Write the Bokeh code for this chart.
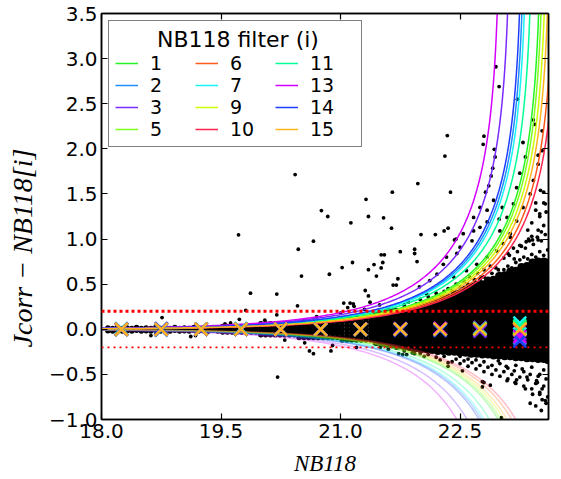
import numpy as np
from bokeh.plotting import figure
from bokeh.models import Span, LinearAxis, FixedTicker, Range1d, CustomJSTickFormatter
from bokeh.embed import file_html
from bokeh.resources import INLINE

# ---------------- data ----------------
filters = ["1", "2", "3", "5", "6", "7", "9", "10", "11", "13", "14", "15"]
colors = ["#22f522", "#1e8fff", "#7b2bff", "#7fff1f", "#ff5a1a", "#18f4f4",
          "#ccff00", "#ff2450", "#00ff96", "#d400ff", "#1f3dff", "#ffb41e"]
# magnitude at which each filter's upper Sigma-curve diverges
m_lim = [23.53, 23.32, 23.14, 23.56, 23.70, 23.35, 23.60, 23.75, 23.42, 23.01, 23.29, 23.64]

bin_centres = [18.25, 18.75, 19.25, 19.75, 20.25, 20.75, 21.25, 21.75, 22.25, 22.75, 23.25]
med_f1 = [0.00, 0.00, 0.00, 0.00, 0.00, 0.00, 0.00, 0.00, 0.00, 0.00, 0.01]
med_f2 = [0.00, -0.01, 0.00, 0.00, 0.00, 0.00, 0.00, 0.00, -0.01, -0.02, -0.10]
med_f3 = [0.00, 0.00, 0.00, 0.00, 0.00, 0.00, 0.00, 0.01, 0.01, 0.02, -0.05]
med_f5 = [0.00, 0.00, 0.00, 0.00, 0.00, 0.00, 0.00, 0.00, 0.00, 0.00, 0.02]
med_f6 = [0.00, 0.00, 0.00, 0.00, 0.00, 0.00, 0.00, 0.00, 0.00, 0.01, 0.00]
med_f7 = [0.01, 0.00, 0.00, 0.01, 0.00, 0.00, 0.00, 0.00, 0.00, 0.00, 0.07]
med_f9 = [0.00, 0.00, 0.00, 0.00, 0.00, 0.00, 0.00, 0.00, 0.00, 0.00, 0.00]
med_f10 = [0.00, 0.00, 0.00, 0.00, 0.00, 0.00, 0.00, 0.00, 0.00, 0.00, -0.01]
med_f11 = [0.00, 0.00, 0.00, 0.00, 0.00, 0.00, 0.00, 0.00, 0.00, 0.01, 0.04]
med_f13 = [0.00, 0.00, 0.00, 0.00, 0.00, 0.00, 0.00, 0.00, 0.01, -0.02, -0.08]
med_f14 = [0.00, 0.01, 0.00, 0.00, 0.00, 0.00, 0.00, -0.01, -0.01, -0.01, -0.13]
med_f15 = [0.00, 0.00, 0.00, 0.00, 0.00, 0.00, 0.00, 0.00, 0.00, 0.00, 0.00]
medians = [med_f1, med_f2, med_f3, med_f5, med_f6, med_f7, med_f9, med_f10,
           med_f11, med_f13, med_f14, med_f15]

# bright narrow sequence of sources (columns of points)
band_x = [18.08, 18.14, 18.20, 18.26, 18.32, 18.38, 18.44, 18.50, 18.56, 18.62,
          18.68, 18.74, 18.80, 18.86, 18.92, 18.98, 19.04, 19.10, 19.16, 19.22,
          19.28, 19.34, 19.40, 19.46, 19.52, 19.58, 19.64, 19.70, 19.76, 19.82,
          19.88, 19.94, 20.00, 20.06, 20.12, 20.18, 20.24, 20.30, 20.36, 20.42,
          20.48, 20.54, 20.60, 20.66, 20.72, 20.78, 20.84, 20.90, 20.96, 21.02,
          21.08, 21.14, 21.20, 21.26, 21.32, 21.38]
band_y = [[-0.015, 0.015], [-0.02, 0.01], [-0.01, 0.02], [-0.02, 0.01], [-0.015, 0.015],
          [-0.02, 0.01], [-0.01, 0.02], [-0.02, 0.01], [-0.015, 0.015], [-0.02, 0.01],
          [-0.01, 0.02], [-0.02, 0.01], [-0.015, 0.015], [-0.02, 0.01], [-0.01, 0.02],
          [-0.02, 0.01], [-0.015, 0.015], [-0.02, 0.01], [-0.01, 0.02], [-0.02, 0.01],
          [-0.015, 0.015], [-0.02, 0.01], [-0.01, 0.02], [-0.02, 0.01],
          [-0.03, 0.00, 0.03], [-0.03, 0.00, 0.03], [-0.03, 0.00, 0.03], [-0.03, 0.00, 0.03],
          [-0.03, 0.00, 0.03], [-0.03, 0.00, 0.03], [-0.03, 0.00, 0.03], [-0.03, 0.00, 0.03],
          [-0.06, -0.03, 0.00, 0.03, 0.06], [-0.06, -0.03, 0.00, 0.03, 0.06],
          [-0.06, -0.03, 0.00, 0.03, 0.06], [-0.06, -0.03, 0.00, 0.03, 0.06],
          [-0.06, -0.03, 0.00, 0.03, 0.06], [-0.06, -0.03, 0.00, 0.03, 0.06],
          [-0.06, -0.03, 0.00, 0.03, 0.06], [-0.06, -0.03, 0.00, 0.03, 0.06],
          [-0.09, -0.05, -0.02, 0.01, 0.04, 0.08], [-0.09, -0.05, -0.02, 0.01, 0.04, 0.08],
          [-0.09, -0.05, -0.02, 0.01, 0.04, 0.08], [-0.09, -0.05, -0.02, 0.01, 0.04, 0.08],
          [-0.09, -0.05, -0.02, 0.01, 0.04, 0.08], [-0.09, -0.05, -0.02, 0.01, 0.04, 0.08],
          [-0.09, -0.05, -0.02, 0.01, 0.04, 0.08], [-0.09, -0.05, -0.02, 0.01, 0.04, 0.08],
          [-0.09, -0.05, -0.02, 0.01, 0.04, 0.08],
          [-0.12, -0.08, -0.04, 0.00, 0.04, 0.08, 0.12], [-0.12, -0.08, -0.04, 0.00, 0.04, 0.08, 0.12],
          [-0.12, -0.08, -0.04, 0.00, 0.04, 0.08, 0.12], [-0.12, -0.08, -0.04, 0.00, 0.04, 0.08, 0.12],
          [-0.12, -0.08, -0.04, 0.00, 0.04, 0.08, 0.12], [-0.12, -0.08, -0.04, 0.00, 0.04, 0.08, 0.12],
          [-0.12, -0.08, -0.04, 0.00, 0.04, 0.08, 0.12]]

# faint end: dense core of sources
core_x = [21.45, 21.52, 21.59, 21.66, 21.73, 21.80, 21.87, 21.94, 22.01, 22.08,
          22.15, 22.22, 22.29, 22.36, 22.43, 22.50, 22.57, 22.64, 22.71, 22.78,
          22.85, 22.92, 22.99, 23.06, 23.13, 23.20, 23.27, 23.34, 23.41, 23.48,
          23.55, 23.60]
core_y = [
    [-0.14, -0.08, -0.02, 0.04, 0.10, 0.15],
    [-0.15, -0.09, -0.03, 0.03, 0.09, 0.15],
    [-0.16, -0.10, -0.04, 0.02, 0.08, 0.14, 0.18],
    [-0.17, -0.11, -0.05, 0.01, 0.07, 0.13, 0.19],
    [-0.18, -0.12, -0.06, 0.00, 0.06, 0.12, 0.18],
    [-0.19, -0.13, -0.07, -0.01, 0.05, 0.11, 0.17, 0.21],
    [-0.20, -0.14, -0.08, -0.02, 0.04, 0.10, 0.16, 0.22],
    [-0.21, -0.15, -0.09, -0.03, 0.03, 0.09, 0.15, 0.21],
    [-0.22, -0.16, -0.10, -0.04, 0.02, 0.08, 0.14, 0.20, 0.25],
    [-0.22, -0.16, -0.10, -0.04, 0.02, 0.08, 0.14, 0.20, 0.26],
    [-0.23, -0.17, -0.11, -0.05, 0.01, 0.07, 0.13, 0.19, 0.25, 0.29],
    [-0.24, -0.18, -0.12, -0.06, 0.00, 0.06, 0.12, 0.18, 0.24, 0.30],
    [-0.24, -0.18, -0.12, -0.06, 0.00, 0.06, 0.12, 0.18, 0.24, 0.30, 0.34],
    [-0.25, -0.19, -0.13, -0.07, -0.01, 0.05, 0.11, 0.17, 0.23, 0.29, 0.35],
    [-0.25, -0.19, -0.13, -0.07, -0.01, 0.05, 0.11, 0.17, 0.23, 0.29, 0.35, 0.39],
    [-0.26, -0.20, -0.14, -0.08, -0.02, 0.04, 0.10, 0.16, 0.22, 0.28, 0.34, 0.40],
    [-0.26, -0.20, -0.14, -0.08, -0.02, 0.04, 0.10, 0.16, 0.22, 0.28, 0.34, 0.40, 0.44],
    [-0.27, -0.21, -0.15, -0.09, -0.03, 0.03, 0.09, 0.15, 0.21, 0.27, 0.33, 0.39, 0.45],
    [-0.27, -0.21, -0.15, -0.09, -0.03, 0.03, 0.09, 0.15, 0.21, 0.27, 0.33, 0.39, 0.45, 0.49],
    [-0.28, -0.22, -0.16, -0.10, -0.04, 0.02, 0.08, 0.14, 0.20, 0.26, 0.32, 0.38, 0.44, 0.50],
    [-0.28, -0.22, -0.16, -0.10, -0.04, 0.02, 0.08, 0.14, 0.20, 0.26, 0.32, 0.38, 0.44, 0.50, 0.54],
    [-0.29, -0.23, -0.17, -0.11, -0.05, 0.01, 0.07, 0.13, 0.19, 0.25, 0.31, 0.37, 0.43, 0.49, 0.55],
    [-0.29, -0.23, -0.17, -0.11, -0.05, 0.01, 0.07, 0.13, 0.19, 0.25, 0.31, 0.37, 0.43, 0.49, 0.55, 0.59],
    [-0.30, -0.24, -0.18, -0.12, -0.06, 0.00, 0.06, 0.12, 0.18, 0.24, 0.30, 0.36, 0.42, 0.48, 0.54, 0.60],
    [-0.30, -0.24, -0.18, -0.12, -0.06, 0.00, 0.06, 0.12, 0.18, 0.24, 0.30, 0.36, 0.42, 0.48, 0.54, 0.60, 0.64],
    [-0.31, -0.25, -0.19, -0.13, -0.07, -0.01, 0.05, 0.11, 0.17, 0.23, 0.29, 0.35, 0.41, 0.47, 0.53, 0.59, 0.65],
    [-0.31, -0.25, -0.19, -0.13, -0.07, -0.01, 0.05, 0.11, 0.17, 0.23, 0.29, 0.35, 0.41, 0.47, 0.53, 0.59, 0.65, 0.69],
    [-0.32, -0.26, -0.20, -0.14, -0.08, -0.02, 0.04, 0.10, 0.16, 0.22, 0.28, 0.34, 0.40, 0.46, 0.52, 0.58, 0.64, 0.70],
    [-0.32, -0.26, -0.20, -0.14, -0.08, -0.02, 0.04, 0.10, 0.16, 0.22, 0.28, 0.34, 0.40, 0.46, 0.52, 0.58, 0.64, 0.70, 0.74],
    [-0.33, -0.27, -0.21, -0.15, -0.09, -0.03, 0.03, 0.09, 0.15, 0.21, 0.27, 0.33, 0.39, 0.45, 0.51, 0.57, 0.63, 0.69, 0.75],
    [-0.33, -0.27, -0.21, -0.15, -0.09, -0.03, 0.03, 0.09, 0.15, 0.21, 0.27, 0.33, 0.39, 0.45, 0.51, 0.57, 0.63, 0.69, 0.75],
    [-0.34, -0.28, -0.22, -0.16, -0.10, -0.04, 0.02, 0.08, 0.14, 0.20, 0.26, 0.32, 0.38, 0.44, 0.50, 0.56, 0.62, 0.68, 0.74],
]

# individual sources: scattered points around the core and outliers
sparse_x = [
    20.43, 19.72, 20.76, 20.84, 20.66, 20.47, 20.51, 19.87, 20.20, 20.46, 19.81, 20.86,
    18.76, 19.73, 20.20, 22.34, 22.31, 22.80, 22.79, 22.93, 22.94, 22.91, 22.89, 22.86,
    22.82, 22.38, 21.97, 21.65, 21.32, 21.35, 21.54, 21.13, 21.64, 21.02, 21.15, 21.35,
    21.42, 21.51, 21.55, 21.53, 21.51, 21.75, 21.45, 21.31, 21.35, 21.72, 21.66, 21.70,
    21.93, 21.93, 21.96, 22.19, 22.30, 22.35, 22.43, 22.01, 21.04, 21.12, 21.17, 21.49,
    23.51, 23.45, 23.41, 23.48, 23.58, 23.13, 23.36, 23.25, 23.21, 23.03, 22.99, 22.95,
    22.99, 23.22, 23.42, 23.44, 23.32, 23.29, 23.48, 23.53, 23.55, 23.57, 23.50, 23.52,
    20.21, 20.61, 20.66, 20.88, 21.73, 21.78, 21.83, 21.93, 22.35, 22.35, 22.53, 22.78,
    22.78, 22.88, 23.02, 23.09, 23.19, 23.38, 23.41, 23.50, 23.53, 23.47, 23.57, 23.21,
    23.32, 23.53, 22.80, 23.34, 23.46, 21.09, 21.16, 21.37,
    18.62, 18.68, 19.12, 19.18, 19.55, 19.62, 20.05, 20.30, 20.55, 20.70, 20.90, 21.00,
    21.20, 21.30,
    22.45, 22.54, 22.67, 22.75, 22.84, 22.65, 22.46, 22.29, 22.21, 22.12, 21.99, 22.08,
    22.42, 22.58, 22.71, 22.84, 22.96, 23.04, 23.13, 23.21, 23.29, 23.38, 23.42, 23.48,
    23.53, 23.00, 23.09, 23.17, 22.84, 22.92, 22.67, 22.75, 22.50, 22.33,
    23.00, 23.05, 23.10, 23.15, 23.20, 23.25, 23.30, 23.35, 23.40, 23.45, 23.50, 23.55,
    23.60, 23.12, 23.22, 23.32, 23.42, 23.52, 23.57, 23.47, 23.37, 23.27, 23.17, 22.95,
    22.90, 22.80, 22.75, 22.70, 22.65, 23.58, 23.55, 23.50, 23.45, 23.40, 23.35,
    21.50, 21.60, 21.70, 21.80, 21.85, 21.95, 22.00, 22.05, 22.10, 22.15, 22.20, 22.25,
    22.30, 22.35, 22.40, 22.45, 22.50, 22.55, 22.60, 22.62, 22.68, 22.72, 22.76, 22.80,
    22.88, 22.98, 23.05, 23.10, 23.18, 23.25, 23.33, 23.40, 23.48, 23.55,
    21.50, 21.60, 21.70, 21.80, 21.90, 22.00, 22.05, 22.10, 22.20, 22.25, 22.30, 22.40,
    22.45, 22.50, 22.55, 22.60, 22.65, 22.70, 22.75, 22.80, 22.85, 22.90, 22.95, 23.00,
    23.05, 23.10, 23.15, 23.20, 23.25, 23.30, 23.35, 23.40, 23.45, 23.50, 23.55, 23.60,
    22.60, 22.80, 23.00, 23.20, 23.40, 23.55, 22.90, 23.10, 23.30, 23.50, 23.58, 23.48,
    23.38, 23.28, 23.18, 23.08, 22.98, 22.70, 22.50, 23.45, 23.52, 23.58]
sparse_y = [
    1.715, 1.047, 1.316, 1.25, 0.976, 0.887, 0.59, 0.40, 0.39, 0.26, 0.21, 0.61,
    0.13, 0.11, 0.16, 2.147, 1.92, 2.14, 2.05, 1.995, 1.91, 1.785, 1.70, 1.59,
    1.52, 1.52, 1.615, 1.52, 1.44, 1.25, 1.235, 1.18, 1.12, 0.684, 0.74, 0.66,
    0.717, 0.825, 0.825, 0.74, 0.68, 0.86, 0.59, 0.43, 0.37, 0.56, 0.49, 0.49,
    0.887, 0.84, 0.75, 1.05, 1.09, 1.12, 0.99, 1.05, 0.29, 0.29, 0.255, 0.27,
    1.54, 1.32, 0.99, 0.99, 0.69, 1.02, 1.00, 1.73, 1.57, 1.35, 1.22, 2.91,
    2.69, 2.55, 2.32, 2.27, 1.91, 2.07, 1.93, 2.20, 1.52, 1.39, 1.28, 1.08,
    -0.53, -0.24, -0.27, -0.24, -0.27, -0.28, -0.28, -0.27, -0.37, -0.41, -0.46, -0.58,
    -0.64, -0.62, -0.98, -0.57, -0.59, -0.82, -0.72, -0.72, -0.66, -0.59, -0.79, -0.56,
    -0.66, -0.78, -0.59, -0.53, -0.57, 0.24, 0.28, 0.30,
    -0.07, -0.06, -0.08, -0.07, 0.06, 0.07, 0.10, -0.12, -0.15, 0.14, -0.18, 0.18,
    -0.20, 0.22,
    1.00, 1.06, 1.09, 1.13, 1.19, 0.98, 0.84, 0.72, 0.61, 0.54, 0.47, 0.39,
    0.58, 0.65, 0.72, 0.80, 0.87, 0.95, 1.06, 1.20, 1.35, 1.50, 1.65, 1.83,
    1.98, 1.09, 1.24, 1.39, 1.32, 1.43, 1.24, 1.35, 0.91, 0.80,
    0.62, 0.66, 0.70, 0.68, 0.74, 0.77, 0.80, 0.78, 0.83, 0.80, 0.86, 0.82,
    0.88, 0.82, 0.86, 0.90, 0.94, 0.98, 1.05, 1.02, 0.98, 0.92, 0.90, 0.68,
    0.62, 0.58, 0.55, 0.52, 0.50, 1.30, 1.40, 1.25, 1.40, 1.18, 1.10,
    0.20, 0.24, 0.22, 0.27, 0.30, 0.28, 0.33, 0.30, 0.36, 0.34, 0.40, 0.37,
    0.42, 0.45, 0.43, 0.50, 0.47, 0.53, 0.50, 0.58, 0.55, 0.62, 0.58, 0.66,
    0.70, 0.66, 0.79, 0.84, 0.78, 0.93, 0.97, 1.03, 1.10, 1.15,
    -0.20, -0.22, -0.21, -0.24, -0.26, -0.27, -0.30, -0.28, -0.31, -0.34, -0.30, -0.36,
    -0.33, -0.38, -0.35, -0.41, -0.37, -0.44, -0.40, -0.47, -0.42, -0.50, -0.45, -0.52,
    -0.47, -0.55, -0.50, -0.60, -0.53, -0.63, -0.56, -0.66, -0.60, -0.70, -0.63, -0.75,
    -0.33, -0.36, -0.38, -0.40, -0.42, -0.45, -0.40, -0.43, -0.47, -0.50, -0.55, -0.52,
    -0.50, -0.44, -0.46, -0.41, -0.35, -0.34, -0.30, -0.85, -0.90, -0.82]

CUT = 0.2  # colour-excess selection lines at +/- 0.2

x_ticks = [18.0, 19.5, 21.0, 22.5]
y_ticks = [-1.0, -0.5, 0.0, 0.5, 1.0, 1.5, 2.0, 2.5, 3.0, 3.5]

# ---------------- figure ----------------
p = figure(width=561, height=479, x_range=Range1d(18.0, 23.61), y_range=Range1d(-1.0, 3.5),
           output_backend="svg", toolbar_location=None,
           min_border_left=101, min_border_right=13, min_border_top=13, min_border_bottom=60)
p.xgrid.visible = False
p.ygrid.visible = False
p.outline_line_color = "black"
p.outline_line_width = 1.5
p.background_fill_color = "white"
p.border_fill_color = "white"

bx = [x for x, ys in zip(band_x, band_y) for _ in ys]
by = [y for ys in band_y for y in ys]
p.scatter(bx, by, size=5.5, color="black", line_color=None)
cx = [x for x, ys in zip(core_x, core_y) for _ in ys]
cy = [y for ys in core_y for y in ys]
p.scatter(cx, cy, size=8, color="black", line_color=None)
p.scatter(sparse_x, sparse_y, size=3.8, color="black", line_color=None)

# Sigma curves: lower (faded) then upper
curves = []
for m in m_lim:
    xs = np.concatenate([np.linspace(18.0, m - 0.25, 300), m - np.geomspace(0.25, 1e-4, 300)])
    ys = -2.5 * np.log10(1.0 - 10 ** (0.4 * (xs - m)))
    curves.append((xs, ys))
for (xs, ys), c in zip(curves, colors):
    p.line(xs, -ys, color=c, line_width=1.5, line_alpha=0.3)
for (xs, ys), c, f in zip(curves, colors, filters):
    p.line(xs, ys, color=c, line_width=1.5, legend_label=f)

p.add_layout(Span(location=CUT, dimension="width", line_color="red",
                  line_width=3, line_dash="3 3"))
p.add_layout(Span(location=-CUT, dimension="width", line_color="red",
                  line_width=1.8, line_dash="2 4"))

for med, c in zip(medians, colors):
    p.scatter(bin_centres, med, marker="x", size=18, line_color=c, line_width=2.5)

# axes
fmt = CustomJSTickFormatter(code="return tick.toFixed(1).replace('-', '\\u2212');")
for ax, ticks in ((p.xaxis[0], x_ticks), (p.yaxis[0], y_ticks)):
    ax.ticker = FixedTicker(ticks=ticks)
    ax.formatter = fmt
    ax.major_tick_in = 6
    ax.major_tick_out = 0
    ax.minor_tick_in = 0
    ax.minor_tick_out = 0
    ax.axis_line_width = 1.5
    ax.major_tick_line_width = 1.2
    ax.major_label_text_font = "DejaVu Sans"
    ax.major_label_text_font_size = "20px"
    ax.major_label_text_color = "black"
    ax.axis_label_text_font = "Liberation Serif"
    ax.axis_label_text_font_style = "italic"
    ax.axis_label_text_color = "black"
p.xaxis[0].major_label_standoff = 4
p.yaxis[0].major_label_standoff = 4

p.xaxis[0].axis_label = "NB118"
p.xaxis[0].axis_label_text_font_size = "23px"
p.xaxis[0].axis_label_standoff = 10

# trailing no-break spaces shift the centred label down to where the reference has it
p.yaxis[0].axis_label = "Jcorr \u2212 NB118[i]" + "\u00a0" * 9
p.yaxis[0].axis_label_text_font_size = "28px"
p.yaxis[0].axis_label_standoff = 8

for ticks, place in ((x_ticks, "above"), (y_ticks, "right")):
    ax = LinearAxis(ticker=FixedTicker(ticks=ticks), major_label_text_font_size="1px",
                    major_label_text_color=None, major_label_standoff=0,
                    major_tick_in=6, major_tick_out=0, minor_tick_in=0, minor_tick_out=0,
                    axis_line_width=1.5, major_tick_line_width=1.2)
    p.add_layout(ax, place)

# legend
lg = p.legend[0]
lg.location = "top_left"
lg.title = "\u00a0" * 6 + "NB118 filter (i)"
lg.title_text_font = "DejaVu Sans"
lg.title_text_font_size = "22px"
lg.title_text_font_style = "normal"
lg.title_text_color = "black"
lg.title_standoff = 0
lg.orientation = "vertical"
lg.nrows = 4
lg.label_text_font = "DejaVu Sans"
lg.label_text_font_size = "19px"
lg.label_text_color = "black"
lg.glyph_width = 23
lg.glyph_height = 20
lg.label_height = 20
lg.label_width = 45
lg.label_standoff = 12
lg.spacing = 0
lg.padding = 6
lg.margin = 7
lg.border_line_color = "black"
lg.border_line_width = 1.5
lg.background_fill_alpha = 1.0

open("out.html", "w").write(file_html(p, INLINE))
